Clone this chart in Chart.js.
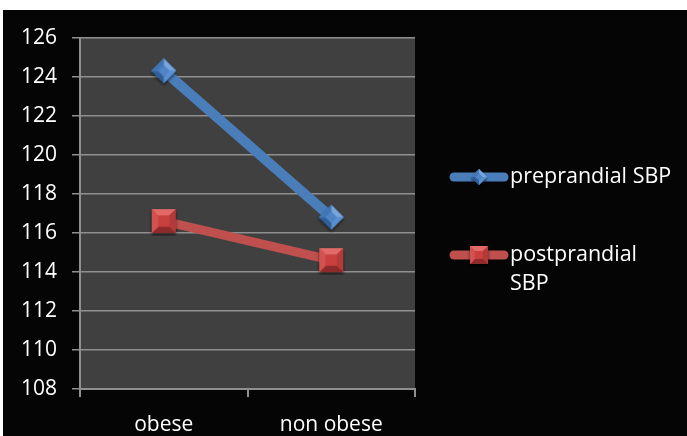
<!DOCTYPE html>
<html>
<head>
<meta charset="utf-8">
<script src="https://cdn.jsdelivr.net/npm/chart.js@4/dist/chart.umd.min.js"></script>
<style>
  html, body { margin: 0; padding: 0; background: #ffffff; }
  #wrap { position: absolute; left: 3px; top: 10px; width: 684px; height: 426px; background: #050505; }
  canvas { display: block; }
</style>
</head>
<body>
<div id="wrap"><canvas id="c" width="684" height="426"></canvas></div>
<script>
// Systolic blood pressure, obese vs non obese
const categories = ['obese', 'non obese'];
const preprandialSBP = [124.3, 116.8];
const postprandialSBP = [116.6, 114.6];
const seriesNames = ['preprandial SBP', 'postprandial SBP'];
const yTicks = { min: 108, max: 126, step: 2 };

const FONT = '"Open Sans", "DejaVu Sans", sans-serif';
const BLUE = '#4a7ebb';
const RED = '#c0504d';

// Bevelled marker images (frustum look), drawn once and reused as point styles
function bevelMarker(size, kind, colors) {
  const pad = 3;
  const cv = document.createElement('canvas');
  cv.width = size + pad * 2;
  cv.height = size + pad * 2;
  const g = cv.getContext('2d');
  const c = cv.width / 2;
  const h = size / 2;
  const inner = h * 0.45;
  let outer, inn;
  if (kind === 'diamond') {
    outer = [[c, c - h], [c + h, c], [c, c + h], [c - h, c]];
    inn = [[c, c - inner], [c + inner, c], [c, c + inner], [c - inner, c]];
  } else {
    outer = [[c - h, c - h], [c + h, c - h], [c + h, c + h], [c - h, c + h]];
    inn = [[c - inner, c - inner], [c + inner, c - inner], [c + inner, c + inner], [c - inner, c + inner]];
  }
  // soft drop shadow
  g.save();
  g.shadowColor = 'rgba(0,0,0,0.6)';
  g.shadowBlur = 3;
  g.shadowOffsetY = 2;
  g.beginPath();
  outer.forEach((p, i) => i ? g.lineTo(p[0], p[1]) : g.moveTo(p[0], p[1]));
  g.closePath();
  g.fillStyle = colors.face;
  g.fill();
  g.restore();
  const sides = [colors.top, colors.right, colors.bottom, colors.left];
  for (let i = 0; i < 4; i++) {
    const j = (i + 1) % 4;
    g.beginPath();
    g.moveTo(outer[i][0], outer[i][1]);
    g.lineTo(outer[j][0], outer[j][1]);
    g.lineTo(inn[j][0], inn[j][1]);
    g.lineTo(inn[i][0], inn[i][1]);
    g.closePath();
    g.fillStyle = sides[i];
    g.fill();
  }
  g.beginPath();
  inn.forEach((p, i) => i ? g.lineTo(p[0], p[1]) : g.moveTo(p[0], p[1]));
  g.closePath();
  g.fillStyle = colors.face;
  g.fill();
  return cv;
}

const blueColors = { face: '#4f85c6', top: '#78a6dc', right: '#5a8fcf', bottom: '#2f5e98', left: '#4275b3' };
const redColors = { face: '#c9403f', top: '#e26a68', right: '#b23a38', bottom: '#8c2b2a', left: '#d25250' };

const diamondImg = bevelMarker(25, 'diamond', blueColors);
const squareImg = bevelMarker(24, 'square', redColors);
const diamondSmall = bevelMarker(16, 'diamond', blueColors);
const squareSmall = bevelMarker(18, 'square', redColors);

// Dark plot-area fill
const plotBackground = {
  id: 'plotBackground',
  beforeDraw(chart) {
    const { ctx, chartArea: a } = chart;
    ctx.save();
    ctx.fillStyle = '#404040';
    ctx.fillRect(a.left, a.top, a.right - a.left, a.bottom - a.top);
    ctx.restore();
  }
};

// Legend on the right: thick line sample with marker, label wrapped to width
const sideLegend = {
  id: 'sideLegend',
  afterDraw(chart) {
    const { ctx } = chart;
    const x0 = 447, x1 = 505, tx = 507, maxW = 165, lineH = 29;
    const rows = [167, 245];
    const smalls = [diamondSmall, squareSmall];
    ctx.save();
    chart.data.datasets.forEach((ds, i) => {
      const y = rows[i];
      ctx.strokeStyle = ds.borderColor;
      ctx.lineWidth = 9;
      ctx.lineCap = 'round';
      ctx.beginPath();
      ctx.moveTo(x0 + 4, y);
      ctx.lineTo(x1 - 4, y);
      ctx.stroke();
      const img = smalls[i];
      ctx.drawImage(img, (x0 + x1) / 2 - img.width / 2, y - img.height / 2);
      ctx.font = '21.5px ' + FONT;
      ctx.fillStyle = '#ffffff';
      ctx.textBaseline = 'middle';
      ctx.textAlign = 'left';
      const words = ds.label.split(' ');
      const lines = [];
      let cur = '';
      words.forEach(w => {
        const t = cur ? cur + ' ' + w : w;
        if (cur && ctx.measureText(t).width > maxW) { lines.push(cur); cur = w; } else { cur = t; }
      });
      lines.push(cur);
      lines.forEach((ln, k) => ctx.fillText(ln, tx, y + k * lineH));
    });
    ctx.restore();
  }
};

new Chart(document.getElementById('c'), {
  type: 'line',
  data: {
    labels: categories,
    datasets: [
      {
        label: seriesNames[0],
        data: preprandialSBP,
        borderColor: BLUE,
        borderWidth: 10,
        pointStyle: diamondImg,
        pointRadius: 12,
        pointHoverRadius: 12,
        tension: 0
      },
      {
        label: seriesNames[1],
        data: postprandialSBP,
        borderColor: RED,
        borderWidth: 9,
        pointStyle: squareImg,
        pointRadius: 12,
        pointHoverRadius: 12,
        tension: 0
      }
    ]
  },
  options: {
    responsive: false,
    animation: false,
    layout: { padding: { top: 26, right: 272, left: 0, bottom: 0 } },
    plugins: {
      legend: { display: false },
      tooltip: { enabled: false }
    },
    scales: {
      x: {
        offset: true,
        afterFit(scale) { scale.height = 47; },
        grid: {
          offset: true,
          drawOnChartArea: false,
          drawTicks: true,
          tickLength: 8,
          color: '#8f8f8f',
          lineWidth: 2
        },
        border: { color: '#8f8f8f', width: 2 },
        ticks: { color: '#ffffff', font: { family: FONT, size: 21 }, padding: 15 }
      },
      y: {
        min: yTicks.min,
        max: yTicks.max,
        afterFit(scale) { scale.width = 77; },
        grid: {
          color: '#8f8f8f',
          lineWidth: 1.5,
          tickLength: 8
        },
        border: { color: '#8f8f8f', width: 2 },
        ticks: {
          stepSize: yTicks.step,
          color: '#ffffff',
          font: { family: FONT, size: 21 },
          padding: 15
        }
      }
    }
  },
  plugins: [plotBackground, sideLegend]
});
</script>
</body>
</html>
